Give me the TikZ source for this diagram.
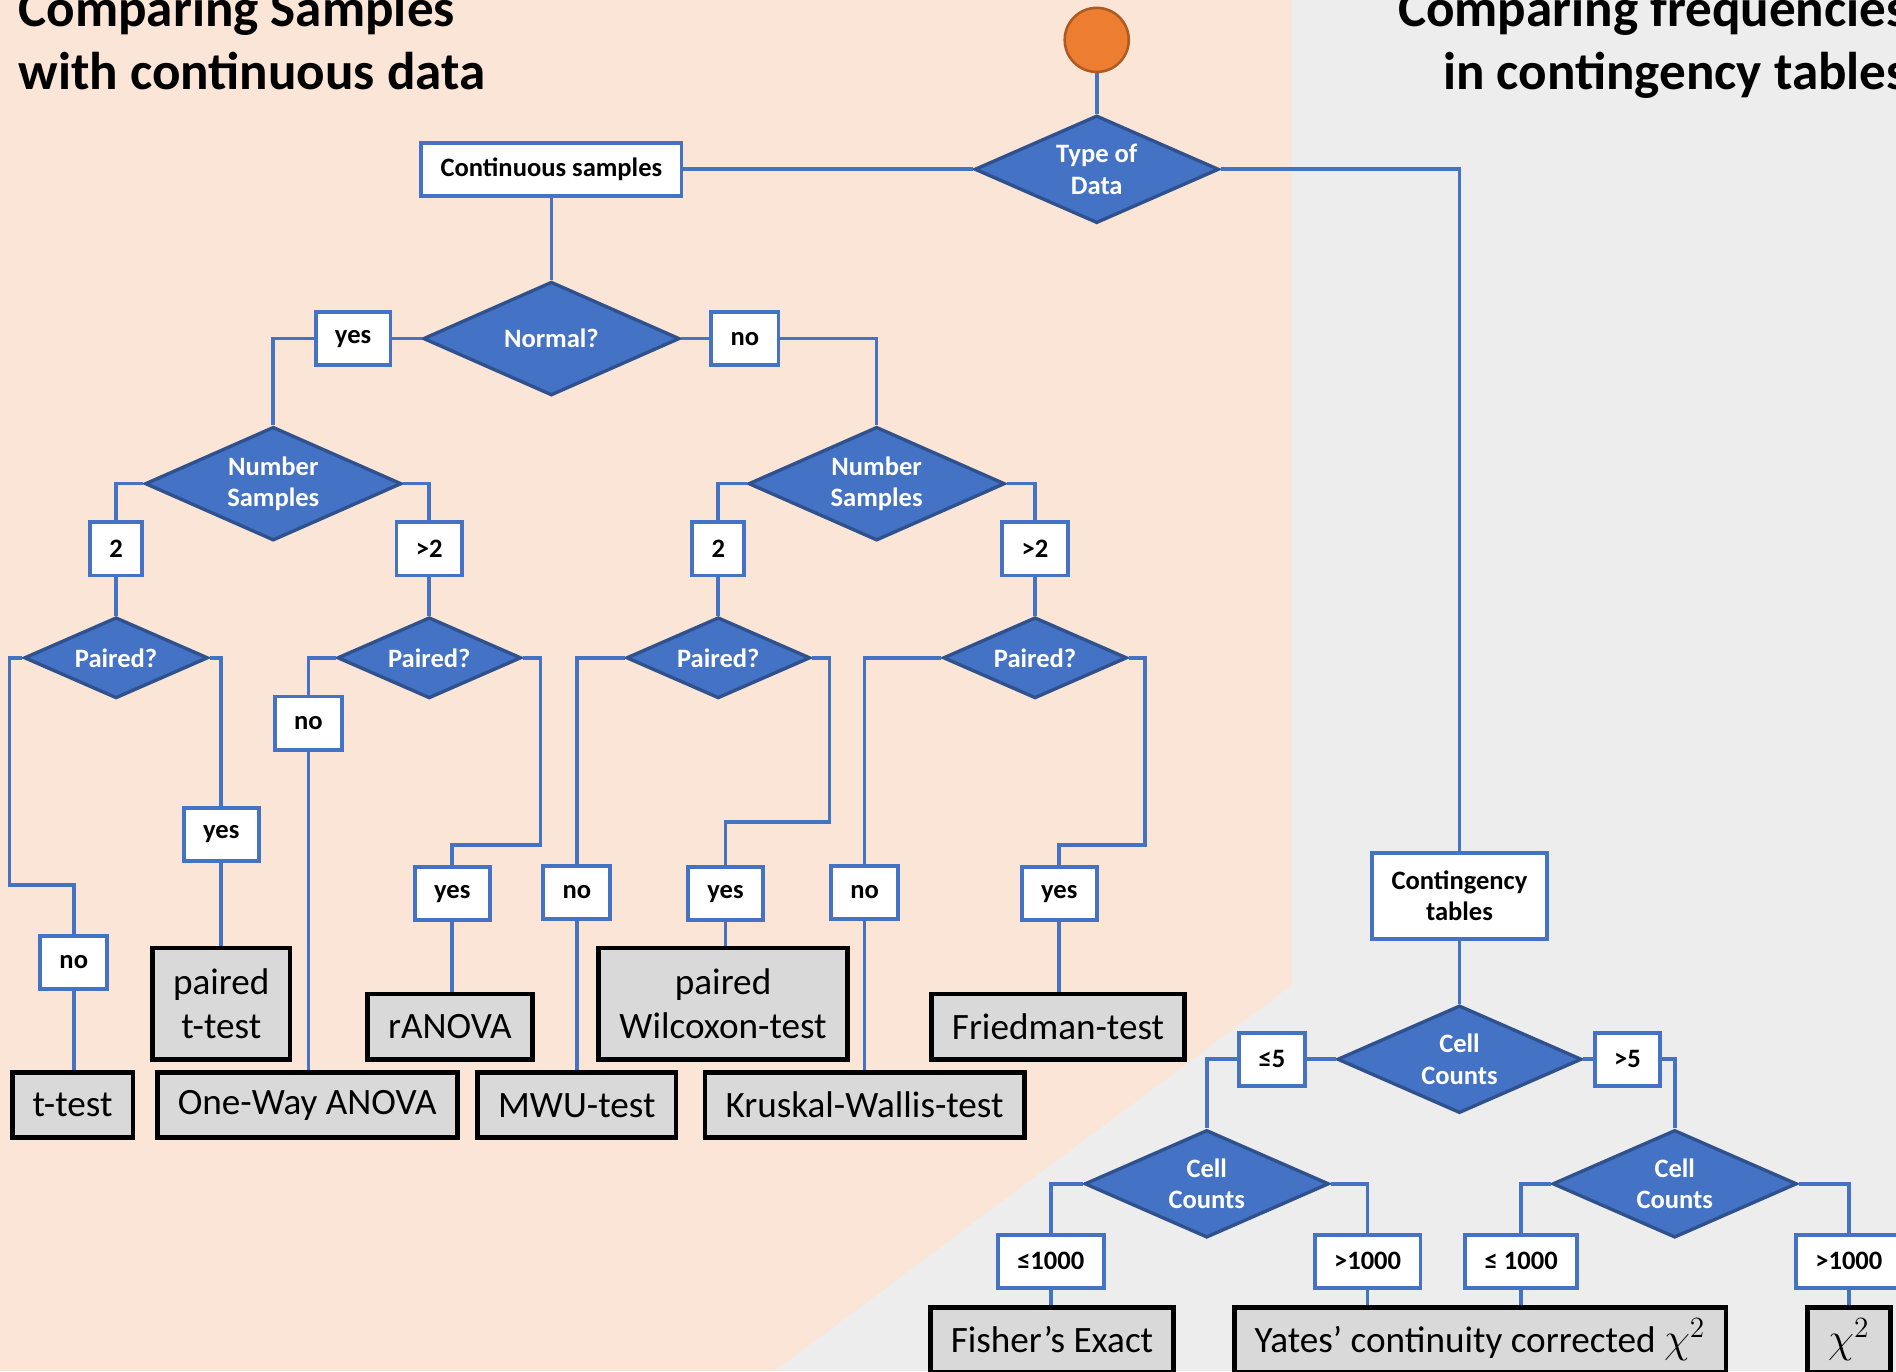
\documentclass[tikz,border=0pt]{standalone}
\usepackage{fontspec}
\setmainfont{Carlito}
\usetikzlibrary{shapes.geometric}
\definecolor{peach}{HTML}{FBE5D6}
\definecolor{greybg}{HTML}{EDEDED}
\definecolor{lblue}{HTML}{4472C4}
\definecolor{dblue}{HTML}{2F528F}
\definecolor{boxgrey}{HTML}{D9D9D9}
\definecolor{orng}{HTML}{ED7D31}
\definecolor{dorng}{HTML}{AE5A21}
\tikzset{
  decision/.style={diamond, aspect=2.25, draw=dblue, fill=lblue, line width=1.6pt,
    text=white, inner sep=0pt, align=center, font=\bfseries\fontsize{12.5}{14.8}\selectfont},
  bigdec/.style={decision, minimum width=42.4mm, minimum height=18.8mm},
  middec/.style={decision, minimum width=40.4mm, minimum height=17.8mm},
  smalldec/.style={decision, minimum width=30.4mm, minimum height=13.4mm},
  tag/.style={draw=lblue, fill=white, line width=1.8pt, inner xsep=3.2mm,
    minimum height=8.8mm, align=center, font=\bfseries\fontsize{12.5}{14.8}\selectfont},
  result/.style={draw=black, fill=boxgrey, line width=2.3pt, inner xsep=3.4mm,
    minimum height=10.8mm, align=center, font=\fontsize{17.5}{20.5}\selectfont},
  twoline/.style={minimum height=18.4mm},
  title/.style={font=\bfseries\fontsize{25}{30}\selectfont, inner sep=0pt},
  link/.style={draw=lblue, line width=1.7pt},
}
\newcommand{\chisq}{\scalebox{1.15}{$\chi^2$}}
\begin{document}
\begin{tikzpicture}[x=0.2mm, y=-0.2mm]
  \useasboundingbox (0,0) rectangle (1568,1134);
  \clip (0,0) rectangle (1568,1134);
  \fill[greybg] (0,0) rectangle (1568,1134);
  \fill[peach] (0,0) -- (1068,0) -- (1068,815) -- (640,1134) -- (0,1134) -- cycle;

  \node[title, anchor=base west] (ttlA) at (15,22) {Comparing Samples};
  \node[title, anchor=base west] (ttlB) at (15,74) {with continuous data};
  \node[title, anchor=base east] (ttlC) at (1578,22) {Comparing frequencies};
  \node[title, anchor=base east] (ttlD) at (1578,74) {in contingency tables};

  \node[circle, draw=dorng, fill=orng, line width=1.2pt, minimum size=10.6mm, inner sep=0pt] (start) at (907,33) {};
  \node[middec] (type) at (907,140) {Type of\\Data};
  \node[tag] (cs) at (456,140) {Continuous samples};
  \node[bigdec] (normal) at (456,280) {Normal?};
  \node[tag] (yesA) at (292,280) {yes};
  \node[tag] (noA) at (616,280) {no};
  \node[bigdec] (nsL) at (226,400) {Number\\Samples};
  \node[bigdec] (nsR) at (725,400) {Number\\Samples};
  \node[tag] (twoL) at (96,454) {2};
  \node[tag] (gtL) at (355,454) {>2};
  \node[tag] (twoR) at (594,454) {2};
  \node[tag] (gtR) at (856,454) {>2};
  \node[smalldec] (pLL) at (96,544) {Paired?};
  \node[smalldec] (pLR) at (355,544) {Paired?};
  \node[smalldec] (pRL) at (594,544) {Paired?};
  \node[smalldec] (pRR) at (856,544) {Paired?};
  \node[tag] (noLL) at (61,796) {no};
  \node[tag] (yesLL) at (183,690) {yes};
  \node[tag] (noLR) at (255,598) {no};
  \node[tag] (yesLR) at (374,739) {yes};
  \node[tag] (noRL) at (477,738) {no};
  \node[tag] (yesRL) at (600,739) {yes};
  \node[tag] (noRR) at (715,738) {no};
  \node[tag] (yesRR) at (876,739) {yes};
  \node[result] (ttest) at (60,914) {t-test};
  \node[result, twoline] (pttest) at (183,830) {paired\\t-test};
  \node[result] (anova) at (254,914) {One-Way ANOVA};
  \node[result] (ranova) at (372,849) {rANOVA};
  \node[result] (mwu) at (477,914) {MWU-test};
  \node[result, twoline] (wilcox) at (598,830) {paired\\Wilcoxon-test};
  \node[result] (kw) at (715,914) {Kruskal-Wallis-test};
  \node[result] (fried) at (875,849) {Friedman-test};

  \node[tag, minimum height=14.2mm] (cont) at (1207,741) {Contingency\\tables};
  \node[middec] (ccT) at (1207,876) {Cell\\Counts};
  \node[tag] (le5) at (1052,876) {≤5};
  \node[tag] (gt5) at (1346,876) {>5};
  \node[middec] (ccL) at (998,979) {Cell\\Counts};
  \node[middec] (ccR) at (1385,979) {Cell\\Counts};
  \node[tag] (leL) at (869,1043) {≤1000};
  \node[tag] (gtLk) at (1131,1043) {>1000};
  \node[tag] (leR) at (1258,1043) {≤ 1000};
  \node[tag] (gtRk) at (1529,1043) {>1000};
  \node[result] (fisher) at (870,1108) {Fisher’s Exact};
  \node[result] (yates) at (1224,1108) {Yates’ continuity corrected \chisq};
  \node[result] (chi) at (1529,1108) {\chisq};

  \coordinate (c1) at (8,732);
  \coordinate (c2) at (447,699);
  \coordinate (c3) at (686,680);
  \coordinate (c4) at (947,699);

  \begin{scope}[link]
    \draw (start.south) -- (type.north);
    \draw (cs.east) -- (type.west);
    \draw (type.east) -| (cont.north);
    \draw (cs.south) -- (normal.north);
    \draw (normal.west) -- (yesA.east);
    \draw (yesA.west) -| (nsL.north);
    \draw (normal.east) -- (noA.west);
    \draw (noA.east) -| (nsR.north);
    \draw (nsL.west) -| (twoL.north);
    \draw (nsL.east) -| (gtL.north);
    \draw (nsR.west) -| (twoR.north);
    \draw (nsR.east) -| (gtR.north);
    \draw (twoL.south) -- (pLL.north);
    \draw (gtL.south) -- (pLR.north);
    \draw (twoR.south) -- (pRL.north);
    \draw (gtR.south) -- (pRR.north);
    \draw (pLL.west) -| (c1) -| (noLL.north);
    \draw (pLL.east) -| (yesLL.north);
    \draw (pLR.west) -| (noLR.north);
    \draw (pLR.east) -| (c2) -| (yesLR.north);
    \draw (pRL.west) -| (noRL.north);
    \draw (pRL.east) -| (c3) -| (yesRL.north);
    \draw (pRR.west) -| (noRR.north);
    \draw (pRR.east) -| (c4) -| (yesRR.north);
    \draw (noLL.south) -- (noLL.south |- ttest.north);
    \draw (yesLL.south) -- (yesLL.south |- pttest.north);
    \draw (noLR.south) -- (noLR.south |- anova.north);
    \draw (yesLR.south) -- (yesLR.south |- ranova.north);
    \draw (noRL.south) -- (noRL.south |- mwu.north);
    \draw (yesRL.south) -- (yesRL.south |- wilcox.north);
    \draw (noRR.south) -- (noRR.south |- kw.north);
    \draw (yesRR.south) -- (yesRR.south |- fried.north);
    \draw (cont.south) -- (ccT.north);
    \draw (ccT.west) -- (le5.east);
    \draw (le5.west) -| (ccL.north);
    \draw (ccT.east) -- (gt5.west);
    \draw (gt5.east) -| (ccR.north);
    \draw (ccL.west) -| (leL.north);
    \draw (ccL.east) -| (gtLk.north);
    \draw (ccR.west) -| (leR.north);
    \draw (ccR.east) -| (gtRk.north);
    \draw (leL.south) -- (leL.south |- fisher.north);
    \draw (gtLk.south) -- (gtLk.south |- yates.north);
    \draw (leR.south) -- (leR.south |- yates.north);
    \draw (gtRk.south) -- (gtRk.south |- chi.north);
  \end{scope}
\end{tikzpicture}
\end{document}
